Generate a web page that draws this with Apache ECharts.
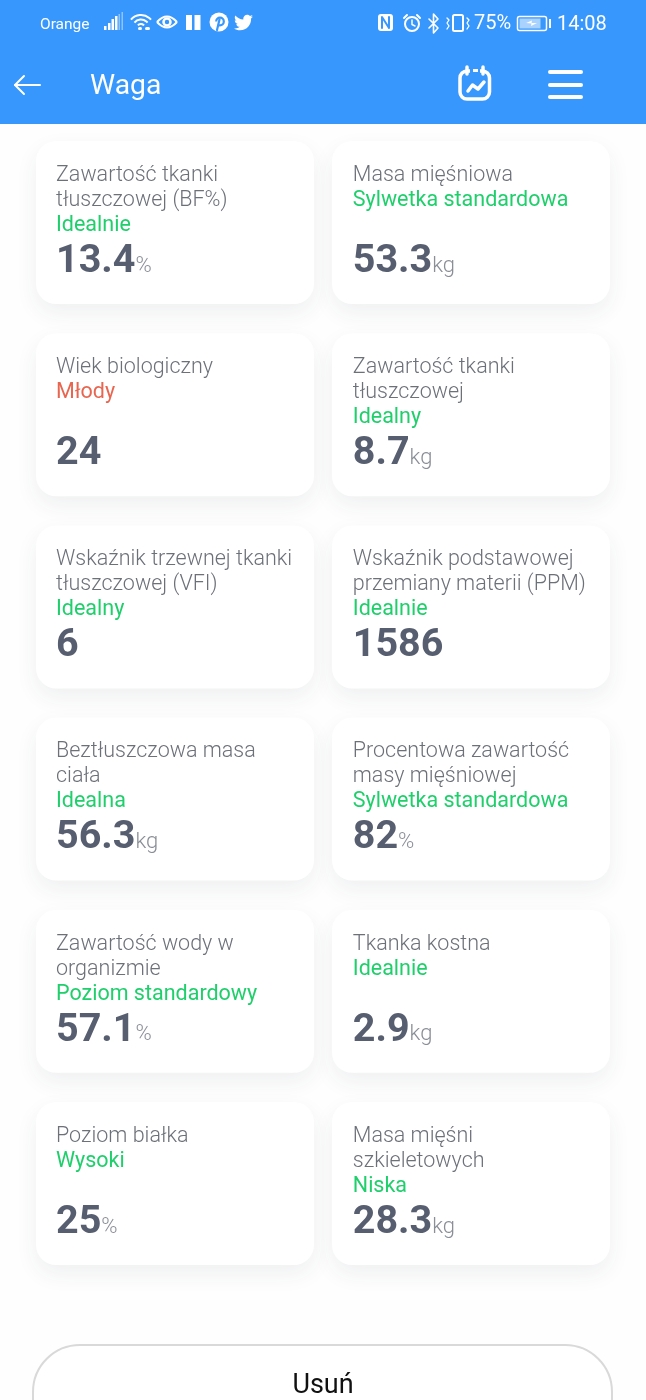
<!DOCTYPE html>
<html>
<head>
<meta charset="utf-8">
<title>Waga</title>
<script src="https://cdn.jsdelivr.net/npm/echarts@6/dist/echarts.min.js"></script>
<style>
  html, body { margin: 0; padding: 0; background: #fff; }
  #chart { width: 646px; height: 1400px; }
</style>
</head>
<body>
<div id="chart"></div>
<script>
const titles = [
  'Zawartość tkanki\ntłuszczowej (BF%)', 'Masa mięśniowa',
  'Wiek biologiczny', 'Zawartość tkanki\ntłuszczowej',
  'Wskaźnik trzewnej tkanki\ntłuszczowej (VFI)', 'Wskaźnik podstawowej\nprzemiany materii (PPM)',
  'Beztłuszczowa masa\nciała', 'Procentowa zawartość\nmasy mięśniowej',
  'Zawartość wody w\norganizmie', 'Tkanka kostna',
  'Poziom białka', 'Masa mięśni\nszkieletowych'
];
const statuses = [
  'Idealnie', 'Sylwetka standardowa',
  'Młody', 'Idealny',
  'Idealny', 'Idealnie',
  'Idealna', 'Sylwetka standardowa',
  'Poziom standardowy', 'Idealnie',
  'Wysoki', 'Niska'
];
const values = ['13.4', '53.3', '24', '8.7', '6', '1586', '56.3', '82', '57.1', '2.9', '25', '28.3'];
const units = ['%', 'kg', '', 'kg', '', '', 'kg', '%', '%', 'kg', '%', 'kg'];
const columns = ['left', 'right'];
const rows = ['r1', 'r2', 'r3', 'r4', 'r5', 'r6'];

const FONT = 'Roboto, "Noto Sans", sans-serif';
const BLUE = '#3797fd';
const CARD_W = 278;
const CARD_H = 163;

function renderCard(params, api) {
  const i = params.dataIndex;
  const c = api.coord([api.value(0), api.value(1)]);
  const x = c[0] - CARD_W / 2;
  const y = c[1] - CARD_H / 2;
  const textX = x + 20 + api.value(0) * 0.8;
  const lines = titles[i].split('\n').length;
  const bad = statuses[i] === 'Młody';
  return {
    type: 'group',
    children: [
      {
        type: 'rect',
        shape: { x, y, width: CARD_W, height: CARD_H, r: 20 },
        style: { fill: '#fff', shadowBlur: 22, shadowOffsetY: 9, shadowColor: 'rgba(40,50,70,0.07)' }
      },
      {
        type: 'text',
        style: {
          x: textX, y: y + 22, text: titles[i], fill: '#6c7079',
          font: '300 21.5px ' + FONT, lineHeight: 25, verticalAlign: 'top'
        }
      },
      {
        type: 'text',
        style: {
          x: textX, y: y + 22 + lines * 25, text: statuses[i], fill: bad ? '#e8654f' : '#1fcf6b',
          font: '400 21.5px ' + FONT, lineHeight: 25, verticalAlign: 'top'
        }
      },
      {
        type: 'text',
        style: {
          x: textX, y: y + 141, text: '{v|' + values[i] + '}' + (units[i] ? '{u|' + units[i] + '}' : ''),
          verticalAlign: 'bottom',
          rich: {
            v: { font: '700 39.5px ' + FONT, fill: '#575e6f', lineHeight: 44, verticalAlign: 'bottom' },
            u: { font: '300 22px ' + FONT, fill: '#8a8e97', lineHeight: 30, verticalAlign: 'bottom', padding: [0, 0, 5, 0] }
          }
        }
      }
    ]
  };
}

const TWITTER = 'M22.46,6C21.69,6.35 20.86,6.58 20,6.69C20.88,6.16 21.56,5.32 21.88,4.31C21.05,4.81 20.13,5.16 19.16,5.36C18.37,4.5 17.26,4 16,4C13.65,4 11.73,5.92 11.73,8.29C11.73,8.63 11.77,8.96 11.84,9.27C8.28,9.09 5.11,7.38 3,4.79C2.63,5.42 2.42,6.16 2.42,6.94C2.42,8.43 3.17,9.75 4.33,10.5C3.62,10.5 2.96,10.3 2.38,10C2.38,10 2.38,10 2.38,10.03C2.38,12.11 3.86,13.85 5.82,14.24C5.46,14.34 5.08,14.39 4.69,14.39C4.42,14.39 4.15,14.36 3.89,14.31C4.43,16 6,17.26 7.89,17.29C6.43,18.45 4.58,19.13 2.56,19.13C2.22,19.13 1.88,19.11 1.54,19.07C3.44,20.29 5.7,21 8.12,21C16,21 20.33,14.46 20.33,8.79C20.33,8.6 20.33,8.42 20.32,8.23C21.16,7.63 21.88,6.87 22.46,6Z';
const WHITE = '#fff';
const DIM = '#8fc3fd';
const line = (x1, y1, x2, y2, w, stroke) => ({
  type: 'line', shape: { x1, y1, x2, y2 },
  style: { stroke: stroke || WHITE, lineWidth: w || 2, lineCap: 'round' }
});
const poly = (points, w, stroke) => ({
  type: 'polyline', shape: { points },
  style: { stroke: stroke || WHITE, lineWidth: w || 2, fill: null, lineCap: 'round', lineJoin: 'round' }
});
const box = (x, y, width, height, r, fill) => ({
  type: 'rect', shape: { x, y, width, height, r: r || 0 }, style: { fill: fill || WHITE }
});
const frame = (x, y, width, height, r, w) => ({
  type: 'rect', shape: { x, y, width, height, r: r || 0 },
  style: { fill: null, stroke: WHITE, lineWidth: w || 1.5 }
});
const arc = (cx, cy, r, a0, a1, w, stroke) => ({
  type: 'arc', shape: { cx, cy, r, startAngle: a0, endAngle: a1 },
  style: { stroke: stroke || WHITE, lineWidth: w || 2, fill: null }
});
const ring = (cx, cy, r, w) => ({
  type: 'circle', shape: { cx, cy, r }, style: { fill: null, stroke: WHITE, lineWidth: w || 2 }
});
const curve = (x1, y1, x2, y2, cpx1, cpy1, w) => ({
  type: 'bezierCurve', shape: { x1, y1, x2, y2, cpx1, cpy1 },
  style: { stroke: WHITE, lineWidth: w || 2, fill: null }
});
const label = (x, y, text, font, align) => ({
  type: 'text',
  style: { x, y, text, fill: WHITE, font: font + ' ' + FONT, verticalAlign: 'middle', align: align || 'left' }
});

const graphics = [
  box(0, 0, 646, 124, 0, BLUE),

  // status bar, left side
  label(40, 25, 'Orange', '400 15.5px'),
  box(104, 26, 2.5, 4, 0), box(108, 23, 2.5, 7, 0), box(111.5, 19, 2.5, 11, 0), box(115, 16, 2.5, 14, 0),
  box(118.5, 14, 1.5, 16, 0, DIM), box(121.5, 12, 1.5, 18, 0, DIM),
  arc(141, 28, 13, Math.PI * 1.22, Math.PI * 1.78, 2),
  arc(141, 28, 8.5, Math.PI * 1.22, Math.PI * 1.78, 2),
  arc(141, 28, 4, Math.PI * 1.22, Math.PI * 1.78, 2),
  box(138, 27, 4, 3, 1.5), box(145, 27, 5, 3, 1.5),
  curve(157, 22, 177, 22, 167, 11, 2), curve(157, 22, 177, 22, 167, 33, 2),
  ring(167, 22, 3.5, 2.5),
  box(186, 15, 6, 15, 0), box(194.5, 15, 6, 15, 0),
  { type: 'circle', shape: { cx: 219, cy: 22, r: 9.5 }, style: { fill: WHITE } },
  poly([[217, 30], [219.5, 19.5]], 2.2, BLUE), arc(220, 21.5, 3.8, Math.PI * 1.0, Math.PI * 0.7, 2.2, BLUE),

  // status bar, right side
  box(378, 14, 15, 17, 3),
  poly([[382, 28], [382, 17], [389, 28], [389, 17]], 2, BLUE),
  ring(412, 24, 7, 2), poly([[412, 20], [412, 24.5], [415, 26]], 1.5),
  line(404, 18, 407, 15, 2), line(420, 18, 417, 15, 2),
  poly([[429, 19], [438, 28], [433.5, 33], [433.5, 14], [438, 19], [429, 28]], 1.6),
  poly([[447, 18], [449, 20], [447, 23], [449, 26], [447, 29]], 1.3),
  frame(453, 15, 10, 16, 1.5, 2),
  poly([[467, 18], [469, 20], [467, 23], [469, 26], [467, 29]], 1.3),
  label(474, 24, '75%', '400 20px'),
  frame(517.5, 16.5, 29, 14, 2, 1.5),
  box(519.5, 18.5, 21, 10, 0, '#a9d2ff'),
  { type: 'polygon', shape: { points: [[526, 23], [532, 20.5], [531.5, 23], [537, 23], [531, 26], [531.5, 23.5]] }, style: { fill: WHITE } },
  box(549, 19, 2, 9, 0),
  label(557, 25, '14:08', '400 20px'),

  // title row
  poly([[15, 85], [40, 85]], 2),
  poly([[24, 76], [15, 85], [24, 94]], 2),
  label(90, 87, 'Waga', '400 28.3px'),
  frame(460, 71, 29.5, 28, 7, 3.5),
  line(467, 67, 467, 74, 3.5), line(483, 67, 483, 74, 3.5),
  box(470, 69, 10, 4, 0, BLUE), box(473, 69, 5, 3, 0),
  poly([[468, 91], [472.5, 85], [478, 89], [484, 82]], 3.5),
  box(548, 70, 35, 4, 2), box(548, 83, 35, 4, 2), box(548, 95, 35, 4, 2),

  // delete button, runs off the bottom of the screen
  {
    type: 'rect',
    shape: { x: 33, y: 1345, width: 579, height: 100, r: 47 },
    style: { fill: '#fff', stroke: '#d9d9d9', lineWidth: 2 }
  },
  {
    type: 'text',
    style: { x: 323, y: 1386, text: 'Usuń', fill: '#111', font: '400 27px ' + FONT, align: 'center', verticalAlign: 'middle' }
  }
];

const chart = echarts.init(document.getElementById('chart'));
chart.setOption({
  animation: false,
  backgroundColor: '#fefefe',
  grid: { left: 27, top: 126.4, width: 592, height: 1153.2 },
  xAxis: { type: 'category', data: columns, show: false },
  yAxis: { type: 'category', data: rows, inverse: true, show: false },
  graphic: { elements: graphics },
  series: [
    {
      type: 'custom',
      silent: true,
      clip: false,
      renderItem: renderCard,
      data: titles.map((t, i) => [i % 2, Math.floor(i / 2)])
    },
    {
      // graphic elements cannot take svg paths, the bird goes through a custom series
      type: 'custom',
      silent: true,
      clip: false,
      z: 10,
      renderItem: () => ({
        type: 'path',
        shape: { pathData: TWITTER, layout: 'center', x: 234, y: 14, width: 19, height: 17 },
        style: { fill: WHITE }
      }),
      data: [[0, 0]]
    }
  ]
});
</script>
</body>
</html>
